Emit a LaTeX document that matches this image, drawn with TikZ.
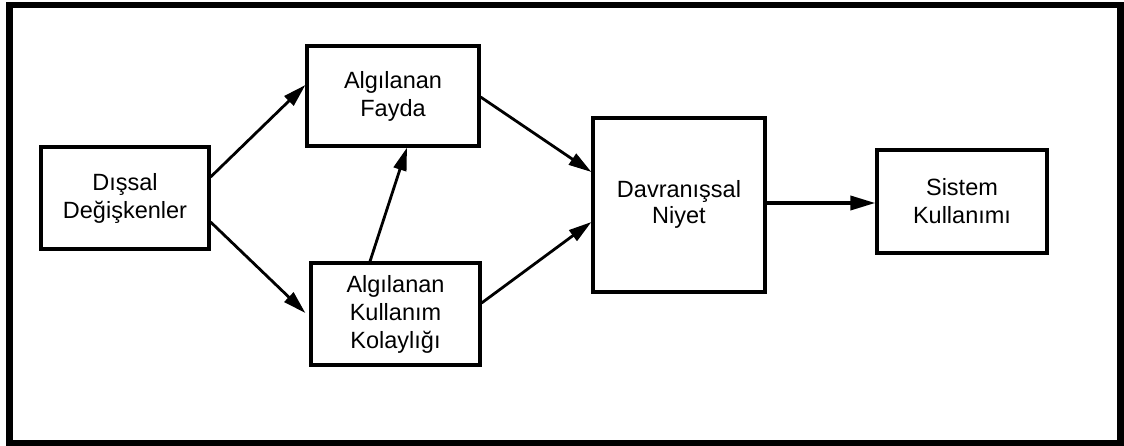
\documentclass[tikz,border=0pt]{standalone}
\usepackage{fontspec}
\setmainfont{Liberation Sans}
\usetikzlibrary{arrows.meta}

\begin{document}
\begin{tikzpicture}[x=1pt,y=-1pt,
  box/.style={draw=black, line width=3.2pt, fill=white, inner sep=0pt,
    align=center, font=\fontsize{23.5}{28}\selectfont},
  link/.style={line width=2.8pt, -{Triangle[length=23pt,width=13pt]}},
  bigger/.style={line width=3.6pt, -{Triangle[length=25pt,width=14pt]}}]

  % canvas and outer frame
  \useasboundingbox (0,0) rectangle (1124,446);
  \fill[white] (0,0) rectangle (1124,446);
  \draw[line width=6.5pt] (9.5,5) rectangle (1120.5,443);

  % constructs of the model
  \node[box, minimum width=168pt, minimum height=102pt] (ext) at (125,198)
    {Dışsal\\Değişkenler};
  \node[box, minimum width=172pt, minimum height=100pt] (pu) at (393,96)
    {Algılanan\\Fayda};
  \node[box, minimum width=169pt, minimum height=102pt] (peou) at (395.5,314)
    {Algılanan\\Kullanım\\Kolaylığı};
  \node[box, minimum width=172pt, minimum height=174pt] (bi) at (679,205)
    {\raisebox{-6pt}{\begin{tabular}{@{}c@{}}Davranışsal\\[-1.5pt]Niyet\end{tabular}}};
  \node[box, minimum width=170pt, minimum height=103pt] (use) at (962,201.5)
    {Sistem\\Kullanımı};

  % relations
  \draw[link] ([yshift=21pt]ext.east) -- ([yshift=11pt]pu.west);
  \draw[link] ([yshift=-24pt]ext.east) -- ([xshift=-4pt,yshift=1pt]peou.west);
  \draw[link] ([xshift=-25.5pt]peou.north) -- ([xshift=14pt]pu.south);
  \draw[link] ([yshift=-1pt]pu.east) -- ([yshift=33pt]bi.west);
  \draw[link] ([yshift=11pt]peou.east) -- ([yshift=-17pt]bi.west);
  \draw[bigger] ([yshift=2pt]bi.east) -- ([yshift=-1.5pt]use.west);
\end{tikzpicture}
\end{document}
